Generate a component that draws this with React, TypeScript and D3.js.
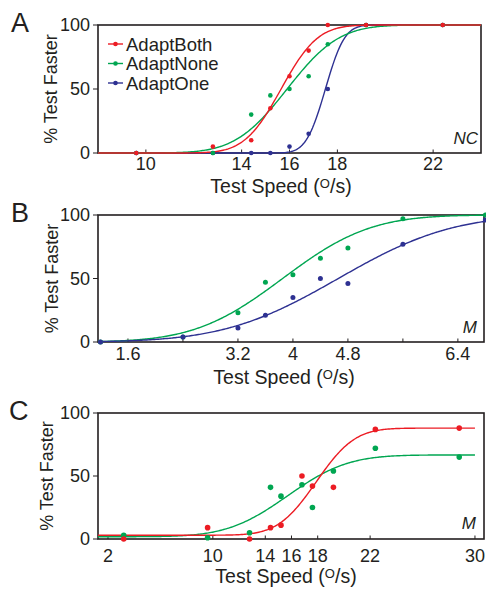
import React, { useEffect, useRef } from 'react';
import * as d3 from 'd3';

const RED = '#ec1c24';
const GREEN = '#00a651';
const BLUE = '#2e3192';
const INK = '#231f20';
const FONT = '"Liberation Sans", Arial, Helvetica, sans-serif';

// Panel A (NC): test speeds and % test faster
const speedsA = [9.6, 12.8, 14.4, 15.2, 16, 16.8, 17.6, 19.2, 22.4];
const adaptBothA = [0, 5, 10, 35, 60, 80, 100, 100, 100];
const adaptNoneA = [0, 0, 30, 45, 50, 60, 85, 100, 100];
const adaptOneA = [0, 0, 0, 0, 5, 15, 50, 100, 100];

// Panel B (M)
const speedsB = [1.2, 2.4, 3.2, 3.6, 4.0, 4.4, 4.8, 5.6, 6.8];
const adaptNoneB = [0, 4, 23, 47, 53, 66, 74, 97, 100];
const adaptOneB = [0, 4, 11, 21, 35, 50, 46, 77, 96];

// Panel C (M)
const speedsC = [3.2, 9.6, 12.8, 14.4, 15.2, 16.8, 17.6, 19.2, 22.4, 28.8];
const adaptBothC = [0, 9, 0, 9, 11, 50, 42, 41, 87, 88];
const adaptNoneC = [3, 1, 5, 41, 34, 43, 25, 54, 72, 65];

// fitted cumulative gaussians: [mean, sd, lower %, upper %]
const fitBothA = [15.65, 1.2, 0, 100];
const fitNoneA = [15.9, 1.7, 0, 100];
const fitOneA = [17.5, 0.63, 0, 100];
const fitNoneB = [3.85, 1.0, 0, 100];
const fitOneB = [4.66, 1.3, 0, 100];
const fitBothC = [17.9, 2.3, 3, 88];
const fitNoneC = [15.7, 3.6, 1.8, 66.7];

// axis ticks
const yTicks = [0, 50, 100];
const xTicksA = [10, 14, 16, 18, 22];
const xLabelsA = [10, 14, 16, 18, 22];
const xTicksB = [1.6, 2.4, 3.2, 4, 4.8, 5.6, 6.4];
const xLabelsB = [1.6, 3.2, 4, 4.8, 6.4];
const xTicksC = [2, 10, 14, 16, 18, 22, 30];
const xLabelsC = [2, 10, 14, 16, 18, 22, 30];

const legendNames = ['AdaptBoth', 'AdaptNone', 'AdaptOne'];
const legendColors = [RED, GREEN, BLUE];

function erf(x: number) {
  const s = Math.sign(x);
  const a = Math.abs(x);
  const t = 1 / (1 + 0.3275911 * a);
  const y = 1 - ((((1.061405429 * t - 1.453152027) * t + 1.421413741) * t - 0.284496736) * t + 0.254829592) * t * Math.exp(-a * a);
  return s * y;
}

function psy(fit: number[], x: number) {
  const [mu, sd, lo, hi] = fit;
  const p = 0.5 * (1 + erf((x - mu) / (sd * Math.SQRT2)));
  return lo + (hi - lo) * p;
}

type Series = { xs: number[]; ys: number[]; fit: number[]; color: string };

type Panel = {
  letter: string;
  tag: string;
  top: number;
  bottom: number;
  left: number;
  right: number;
  domain: [number, number];
  curveEnd: number;
  ticks: number[];
  labels: number[];
  labelOffset: number;
  titleY: number;
  titleX: number;
  yTitleX: number;
  letterPos: [number, number];
  tagPos: [number, number];
  r: number;
  series: Series[];
};

const panels: Panel[] = [
  {
    letter: 'A', tag: 'NC', top: 25, bottom: 153, left: 98, right: 481,
    domain: [8, 24], curveEnd: 24,
    ticks: xTicksA, labels: xLabelsA, labelOffset: 17,
    titleY: 193, titleX: 281, yTitleX: 57, letterPos: [11, 32], tagPos: [478, 144], r: 2.3,
    series: [
      { xs: speedsA, ys: adaptOneA, fit: fitOneA, color: BLUE },
      { xs: speedsA, ys: adaptNoneA, fit: fitNoneA, color: GREEN },
      { xs: speedsA, ys: adaptBothA, fit: fitBothA, color: RED },
    ],
  },
  {
    letter: 'B', tag: 'M', top: 215, bottom: 342, left: 98, right: 484,
    domain: [1.164, 6.78], curveEnd: 6.78,
    ticks: xTicksB, labels: xLabelsB, labelOffset: 18,
    titleY: 384, titleX: 284, yTitleX: 58, letterPos: [11, 222], tagPos: [477, 333], r: 2.5,
    series: [
      { xs: speedsB, ys: adaptNoneB, fit: fitNoneB, color: GREEN },
      { xs: speedsB, ys: adaptOneB, fit: fitOneB, color: BLUE },
    ],
  },
  {
    letter: 'C', tag: 'M', top: 413, bottom: 539, left: 98, right: 484,
    domain: [1.237, 30.69], curveEnd: 30,
    ticks: xTicksC, labels: xLabelsC, labelOffset: 23,
    titleY: 583, titleX: 286, yTitleX: 53, letterPos: [9, 420], tagPos: [476, 529], r: 2.8,
    series: [
      { xs: speedsC, ys: adaptNoneC, fit: fitNoneC, color: GREEN },
      { xs: speedsC, ys: adaptBothC, fit: fitBothC, color: RED },
    ],
  },
];

export default function App() {
  const svgRef = useRef<SVGSVGElement>(null);

  useEffect(() => {
    const svg = d3.select(svgRef.current);
    svg.selectAll('*').remove();

    for (const p of panels) {
      const x = d3.scaleLinear().domain(p.domain).range([p.left, p.right]);
      const y = d3.scaleLinear().domain([0, 100]).range([p.bottom, p.top]);
      const g = svg.append('g');

      // frame
      g.append('rect')
        .attr('x', p.left).attr('y', p.top)
        .attr('width', p.right - p.left).attr('height', p.bottom - p.top)
        .attr('fill', 'none').attr('stroke', INK).attr('stroke-width', 1.6);

      // x ticks (inward) and labels
      g.selectAll('line.xt').data(p.ticks).enter().append('line')
        .attr('x1', d => x(d)).attr('x2', d => x(d))
        .attr('y1', p.bottom).attr('y2', p.bottom - 3.5)
        .attr('stroke', INK).attr('stroke-width', 1);
      g.selectAll('text.xl').data(p.labels).enter().append('text')
        .attr('x', d => x(d)).attr('y', p.bottom + p.labelOffset)
        .attr('text-anchor', 'middle')
        .style('font-size', '18px').style('font-family', FONT).attr('fill', INK)
        .text(d => String(d));

      // y ticks (outward) and labels
      g.selectAll('line.yt').data(yTicks).enter().append('line')
        .attr('x1', p.left - 5).attr('x2', p.left)
        .attr('y1', d => y(d)).attr('y2', d => y(d))
        .attr('stroke', INK).attr('stroke-width', 1);
      g.selectAll('text.yl').data(yTicks).enter().append('text')
        .attr('x', p.left - 8).attr('y', d => y(d)).attr('dy', '0.36em')
        .attr('text-anchor', 'end')
        .style('font-size', '18px').style('font-family', FONT).attr('fill', INK)
        .text(d => String(d));

      // axis titles
      g.append('text')
        .attr('transform', `translate(${p.yTitleX},${(p.top + p.bottom) / 2}) rotate(-90)`)
        .attr('text-anchor', 'middle')
        .style('font-size', '18px').style('font-family', FONT).attr('fill', INK)
        .text('% Test Faster');
      const xt = g.append('text')
        .attr('x', p.titleX).attr('y', p.titleY)
        .attr('text-anchor', 'middle')
        .style('font-size', '19.5px').style('font-family', FONT).attr('fill', INK);
      xt.append('tspan').text('Test Speed (');
      xt.append('tspan').attr('dy', -5.5).style('font-size', '13px').text('O');
      xt.append('tspan').attr('dy', 5.5).text('/s)');

      // panel letter and condition tag
      g.append('text')
        .attr('x', p.letterPos[0]).attr('y', p.letterPos[1])
        .style('font-size', '27px').style('font-family', FONT).attr('fill', INK)
        .text(p.letter);
      g.append('text')
        .attr('x', p.tagPos[0]).attr('y', p.tagPos[1])
        .attr('text-anchor', 'end').style('font-style', 'italic')
        .style('font-size', '17px').style('font-family', FONT).attr('fill', INK)
        .text(p.tag);

      // fitted curves then data points
      const step = (p.curveEnd - p.domain[0]) / 300;
      const xsCurve = d3.range(p.domain[0], p.curveEnd + step / 2, step);
      const line = d3.line<number>().x(d => x(d)).curve(d3.curveLinear);
      for (const s of p.series) {
        g.append('path')
          .attr('d', line.y(d => y(psy(s.fit, d)))(xsCurve))
          .attr('fill', 'none').attr('stroke', s.color).attr('stroke-width', 1.4);
      }
      for (const s of p.series) {
        g.selectAll('circle.c').data(s.xs).enter().append('circle')
          .attr('cx', d => x(d)).attr('cy', (d, i) => y(s.ys[i]))
          .attr('r', p.r).attr('fill', s.color);
      }
    }

    // legend in panel A
    const lg = svg.append('g');
    legendNames.forEach((name, i) => {
      const cy = 44 + i * 19.5;
      lg.append('line').attr('x1', 108).attr('x2', 123).attr('y1', cy).attr('y2', cy)
        .attr('stroke', legendColors[i]).attr('stroke-width', 1.4);
      lg.append('circle').attr('cx', 115.5).attr('cy', cy).attr('r', 2.3).attr('fill', legendColors[i]);
      lg.append('text').attr('x', 126).attr('y', cy + 6.5)
        .style('font-size', '18.5px').style('font-family', FONT).attr('fill', INK)
        .text(name);
    });
  });

  return (
    <svg
      ref={svgRef}
      width={486}
      height={591}
      style={{ position: 'absolute', left: 0, top: 0, background: '#fff' }}
    />
  );
}
